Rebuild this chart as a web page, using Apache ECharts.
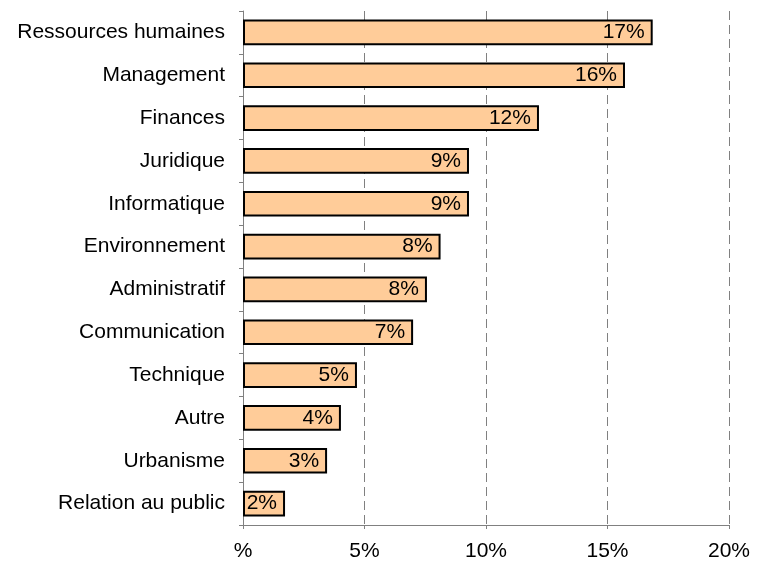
<!DOCTYPE html>
<html>
<head>
<meta charset="utf-8">
<script src="https://cdn.jsdelivr.net/npm/echarts@6/dist/echarts.min.js"></script>
<style>
  html, body { margin: 0; padding: 0; background: #fff; }
  #chart { width: 759px; height: 565px; }
</style>
</head>
<body>
<div id="chart"></div>
<script>
// categories from top to bottom
const categories = ['Ressources humaines', 'Management', 'Finances', 'Juridique', 'Informatique',
  'Environnement', 'Administratif', 'Communication', 'Technique', 'Autre', 'Urbanisme', 'Relation au public']
// share in %
const values = [16.86, 15.72, 12.18, 9.3, 9.3, 8.13, 7.57, 7.0, 4.69, 4.03, 3.46, 1.73]
const xTicks = [0, 5, 10, 15, 20]

const chart = echarts.init(document.getElementById('chart'))
const font = 'Liberation Sans, Arial, sans-serif'
const option = {
  animation: false,
  grid: {
    left: 243,
    right: 30,
    top: 11,
    bottom: 40,
  },
  xAxis: {
    type: 'value',
    min: xTicks[0],
    max: xTicks[xTicks.length - 1],
    interval: 5,
    axisLine: { show: true, lineStyle: { color: '#808080', width: 1 } },
    axisTick: { show: true, length: 4, lineStyle: { color: '#808080' } },
    axisLabel: {
      color: '#000',
      fontFamily: font,
      fontSize: 21,
      margin: 16,
      formatter: v => (v === 0 ? '%' : v + '%'),
    },
    splitLine: {
      show: true,
      lineStyle: { color: '#808080', type: [9, 5], width: 1 },
    },
  },
  yAxis: {
    type: 'category',
    inverse: true,
    data: categories,
    axisLine: { show: true, lineStyle: { color: '#808080', width: 1 } },
    axisTick: { show: true, length: 4, lineStyle: { color: '#808080' } },
    axisLabel: {
      color: '#000',
      fontFamily: font,
      fontSize: 21,
      margin: 18,
    },
    splitLine: { show: false },
  },
  series: [{
    type: 'bar',
    data: values,
    barWidth: '60%',
    itemStyle: {
      color: '#FFCC99',
      borderColor: '#000',
      borderWidth: 2,
    },
    label: {
      show: true,
      position: 'insideRight',
      distance: 8,
      color: '#000',
      fontFamily: font,
      fontSize: 21,
      formatter: p => Math.round(p.value) + '%',
    },
  }],
}
chart.setOption(option)
</script>
</body>
</html>
